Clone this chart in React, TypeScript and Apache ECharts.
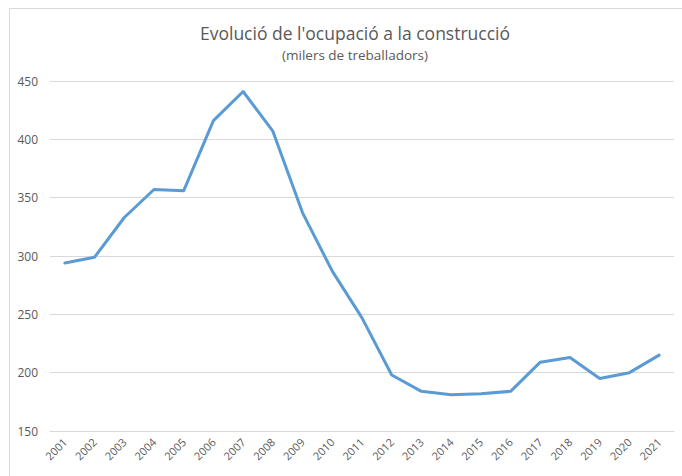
import React, { useEffect, useRef } from "react";
import * as echarts from "echarts";

const years = ["2001","2002","2003","2004","2005","2006","2007","2008","2009","2010","2011","2012","2013","2014","2015","2016","2017","2018","2019","2020","2021"];
const workers = [294, 299, 333, 357, 356, 416, 441, 407, 337, 287, 247, 198, 184, 181, 182, 184, 209, 213, 195, 200, 215];
const titleText = "Evolució de l'ocupació a la construcció";
const subtitleText = "(milers de treballadors)";

export default function App() {
  const ref = useRef<HTMLDivElement>(null);
  useEffect(() => {
    if (!ref.current) return;
    const chart = echarts.init(ref.current, undefined, { renderer: "svg" });
    const font = "Open Sans, Noto Sans, sans-serif";
    chart.setOption({
      animation: false,
      backgroundColor: "#ffffff",
      grid: { left: 50, right: 8, top: 81, bottom: 45, containLabel: false },
      graphic: [
        {
          type: "rect",
          shape: { x: 9.5, y: 8.5, width: 720, height: 520 },
          style: { fill: "none", stroke: "#d9d9d9", lineWidth: 1 },
          silent: true,
          z: -1,
        },
        {
          type: "text",
          x: 355,
          y: 33,
          style: { text: titleText, fill: "#595959", font: `17.5px ${font}`, textAlign: "center", textVerticalAlign: "middle" },
        },
        {
          type: "text",
          x: 355,
          y: 55,
          style: { text: subtitleText, fill: "#595959", font: `13.5px ${font}`, textAlign: "center", textVerticalAlign: "middle" },
        },
      ],
      xAxis: {
        type: "category",
        data: years,
        boundaryGap: true,
        axisLine: { show: true, lineStyle: { color: "#d9d9d9", width: 1 } },
        axisTick: { show: false },
        axisLabel: { rotate: 45, color: "#595959", fontSize: 11, fontFamily: font, margin: 9, interval: 0 },
      },
      yAxis: {
        type: "value",
        min: 150,
        max: 450,
        interval: 50,
        axisLine: { show: false },
        axisTick: { show: false },
        axisLabel: { color: "#595959", fontSize: 12, fontFamily: font, margin: 12 },
        splitLine: { lineStyle: { color: "#d9d9d9", width: 1 } },
      },
      series: [
        {
          type: "line",
          data: workers,
          showSymbol: false,
          symbol: "none",
          lineStyle: { color: "#5b9bd5", width: 3, cap: "round", join: "round" },
        },
      ],
    });
    return () => chart.dispose();
  }, []);
  return <div ref={ref} style={{ position: "fixed", left: 0, top: 0, width: 682, height: 476 }} />;
}
